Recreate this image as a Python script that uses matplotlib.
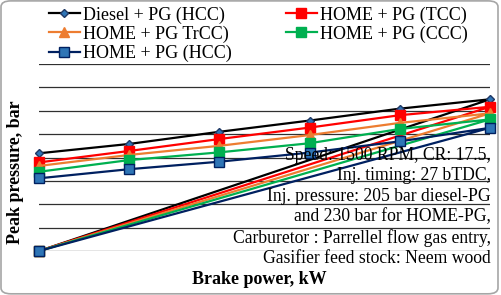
import matplotlib.pyplot as plt
from matplotlib.patches import FancyBboxPatch

plt.rcParams['font.family'] = ['Liberation Serif', 'DejaVu Serif']

# data (peak pressure in bar)
brake_power = [0.0, 1.04, 2.08, 3.12, 4.16, 5.2]
diesel_hcc = [41.8, 45.8, 51.0, 55.8, 60.9, 64.9]
home_tcc = [37.9, 42.8, 47.9, 52.8, 58.1, 61.7]
home_trcc = [36.4, 41.1, 45.0, 49.6, 54.8, 58.9]
home_ccc = [33.9, 38.9, 42.2, 46.1, 52.2, 56.3]
home_hcc = [31.1, 35.0, 38.2, 42.1, 46.9, 52.7]
# every series in the source chart ends with a stray zero point at the first load
closing_value = 0.0

labels = ["Diesel + PG (HCC)", "HOME + PG (TCC)", "HOME + PG TrCC)",
          "HOME + PG (CCC)", "HOME + PG (HCC)"]
series = [diesel_hcc, home_tcc, home_trcc, home_ccc, home_hcc]
colors = ["#000000", "#FF0000", "#ED7D31", "#00B050", "#002060"]
markers = ["D", "s", "^", "s", "s"]
face = ["#2E75B6", "#FF0000", "#ED7D31", "#00B050", "#2E75B6"]
msize = [4.5, 6.5, 6.5, 6.5, 6.5]

fig = plt.figure(figsize=(5.01, 2.95), dpi=100)
ax = fig.add_axes([39 / 501, 44 / 295, 451 / 501, 187 / 295])

lines = []
for p, lab, c, m, fc, ms in zip(series, labels, colors, markers, face, msize):
    xs = brake_power + [brake_power[0]]
    ys = p + [closing_value]
    ln, = ax.plot(xs, ys, color=c, lw=1.6, marker=m, ms=ms,
                  markerfacecolor=fc, markeredgecolor=c if c != "#000000" else "#1F3864",
                  label=lab, clip_on=False)
    lines.append(ln)

ax.set_xlim(brake_power[0], brake_power[-1])
ax.set_ylim(0, 80)
ax.set_yticks(range(0, 81, 10))
ax.yaxis.grid(True, color="#303030", lw=0.9)
ax.set_axisbelow(True)
ax.tick_params(left=False, bottom=False, labelleft=False, labelbottom=False)
for s in ax.spines.values():
    s.set_visible(False)

order = [0, 2, 4, 1, 3]
fig.legend([lines[i] for i in order], [labels[i] for i in order],
           ncol=2, loc="upper left", bbox_to_anchor=(38 / 501, 1.015),
           frameon=False, fontsize=13, handlelength=1.7, handletextpad=0.2,
           labelspacing=0.1, columnspacing=3.0, borderpad=0.1)

fig.text(16 / 501, 1 - 172 / 295, "Peak pressure, bar", rotation=90,
         ha="center", va="center", fontsize=13, fontweight="bold")
fig.text(259 / 501, 1 - 280 / 295, "Brake power, kW",
         ha="center", va="center", fontsize=13, fontweight="bold")

note = ("Speed: 1500 RPM, CR: 17.5,\nInj. timing: 27 bTDC,\n"
        "Inj. pressure: 205 bar diesel-PG\nand 230 bar for HOME-PG,\n"
        "Carburetor : Parrellel flow gas entry,\nGasifier feed stock: Neem wood")
fig.text(491 / 501, 1 - 207 / 295, note, ha="right", va="center",
         multialignment="right", fontsize=12.7, linespacing=1.26)

border = FancyBboxPatch((0.002, 0.004), 0.992, 0.993, boxstyle="round,pad=0,rounding_size=0.02",
                        transform=fig.transFigure, fill=False, ec="#A6A6A6", lw=1.2)
fig.patches.append(border)

fig.savefig("out.png", dpi=100)
